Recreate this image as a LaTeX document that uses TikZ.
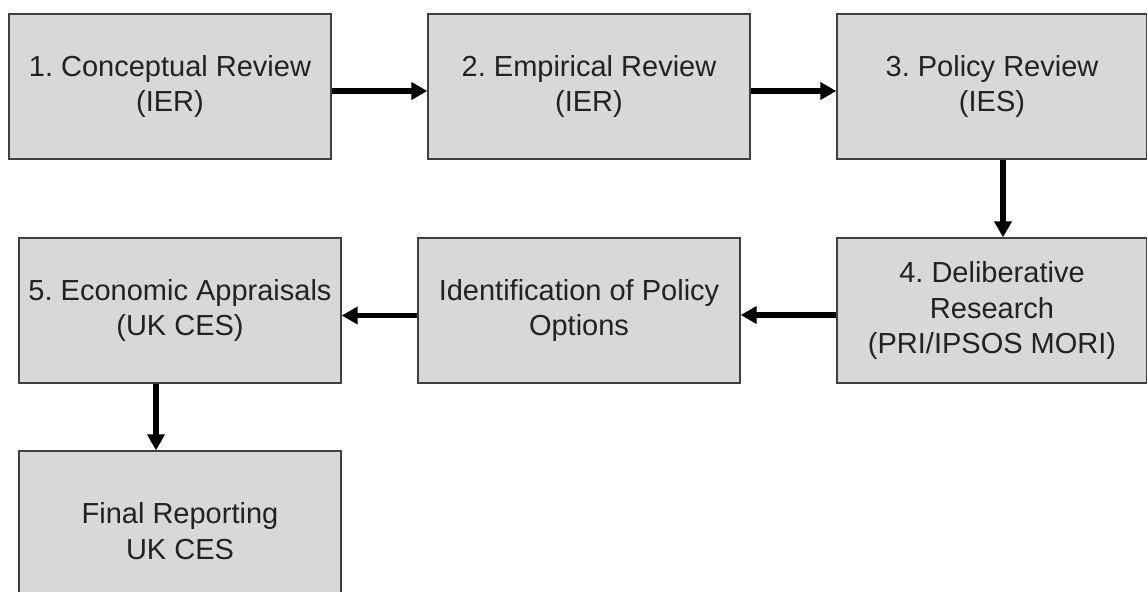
\documentclass[tikz,border=0pt]{standalone}
\usepackage{fontspec}
\setmainfont{Liberation Sans}
\usetikzlibrary{arrows.meta}
\definecolor{boxfill}{HTML}{D8D8D8}
\definecolor{boxline}{HTML}{404040}
\definecolor{txt}{HTML}{222222}
\frenchspacing
\begin{document}
\begin{tikzpicture}[x=0.5pt,y=-0.5pt,
  stagebox/.style={draw=boxline,line width=0.7pt,fill=boxfill,text=txt,align=center,
    inner sep=0pt,font=\fontsize{14.5}{17.75}\selectfont},
  arr/.style={line width=2.6pt,-{Triangle[length=8pt,width=8.5pt]}}]
\useasboundingbox (0,0) rectangle (1147,591);
\clip (0,0) rectangle (1147,591);
\node[stagebox,minimum width=161pt,minimum height=72.5pt] (b1) at (170,86.5) {1. Conceptual Review\\(IER)};
\node[stagebox,minimum width=161pt,minimum height=72.5pt] (b2) at (589,86.5) {2. Empirical Review\\(IER)};
\node[stagebox,minimum width=155pt,minimum height=72.5pt] (b3) at (992,86.5) {3. Policy Review\\(IES)};
\node[stagebox,minimum width=155pt,minimum height=72.5pt] (b4) at (992,310.5) {4. Deliberative\\Research\\(PRI/IPSOS MORI)};
\node[stagebox,minimum width=161pt,minimum height=72.5pt] (bi) at (579,310.5) {Identification of Policy\\Options};
\node[stagebox,minimum width=161pt,minimum height=72.5pt] (b5) at (180,310.5) {5. Economic Appraisals\\(UK CES)};
\node[stagebox,minimum width=161pt,minimum height=80pt] (bf) at (180,531) {Final Reporting\\UK CES};
\draw[arr] ([yshift=-2.25pt]b1.east) -- ([yshift=-2.25pt]b2.west);
\draw[arr] ([yshift=-2.25pt]b2.east) -- ([yshift=-2.25pt]b3.west);
\draw[arr] ([xshift=5.5pt]b3.south) -- ([xshift=5.5pt]b4.north);
\draw[arr] ([yshift=-2.25pt]b4.west) -- ([yshift=-2.25pt]bi.east);
\draw[arr] ([yshift=-2.5pt]bi.west) -- ([yshift=-2.5pt]b5.east);
\draw[arr] ([xshift=-12pt]b5.south) -- ([xshift=-12pt]bf.north);
\end{tikzpicture}
\end{document}
